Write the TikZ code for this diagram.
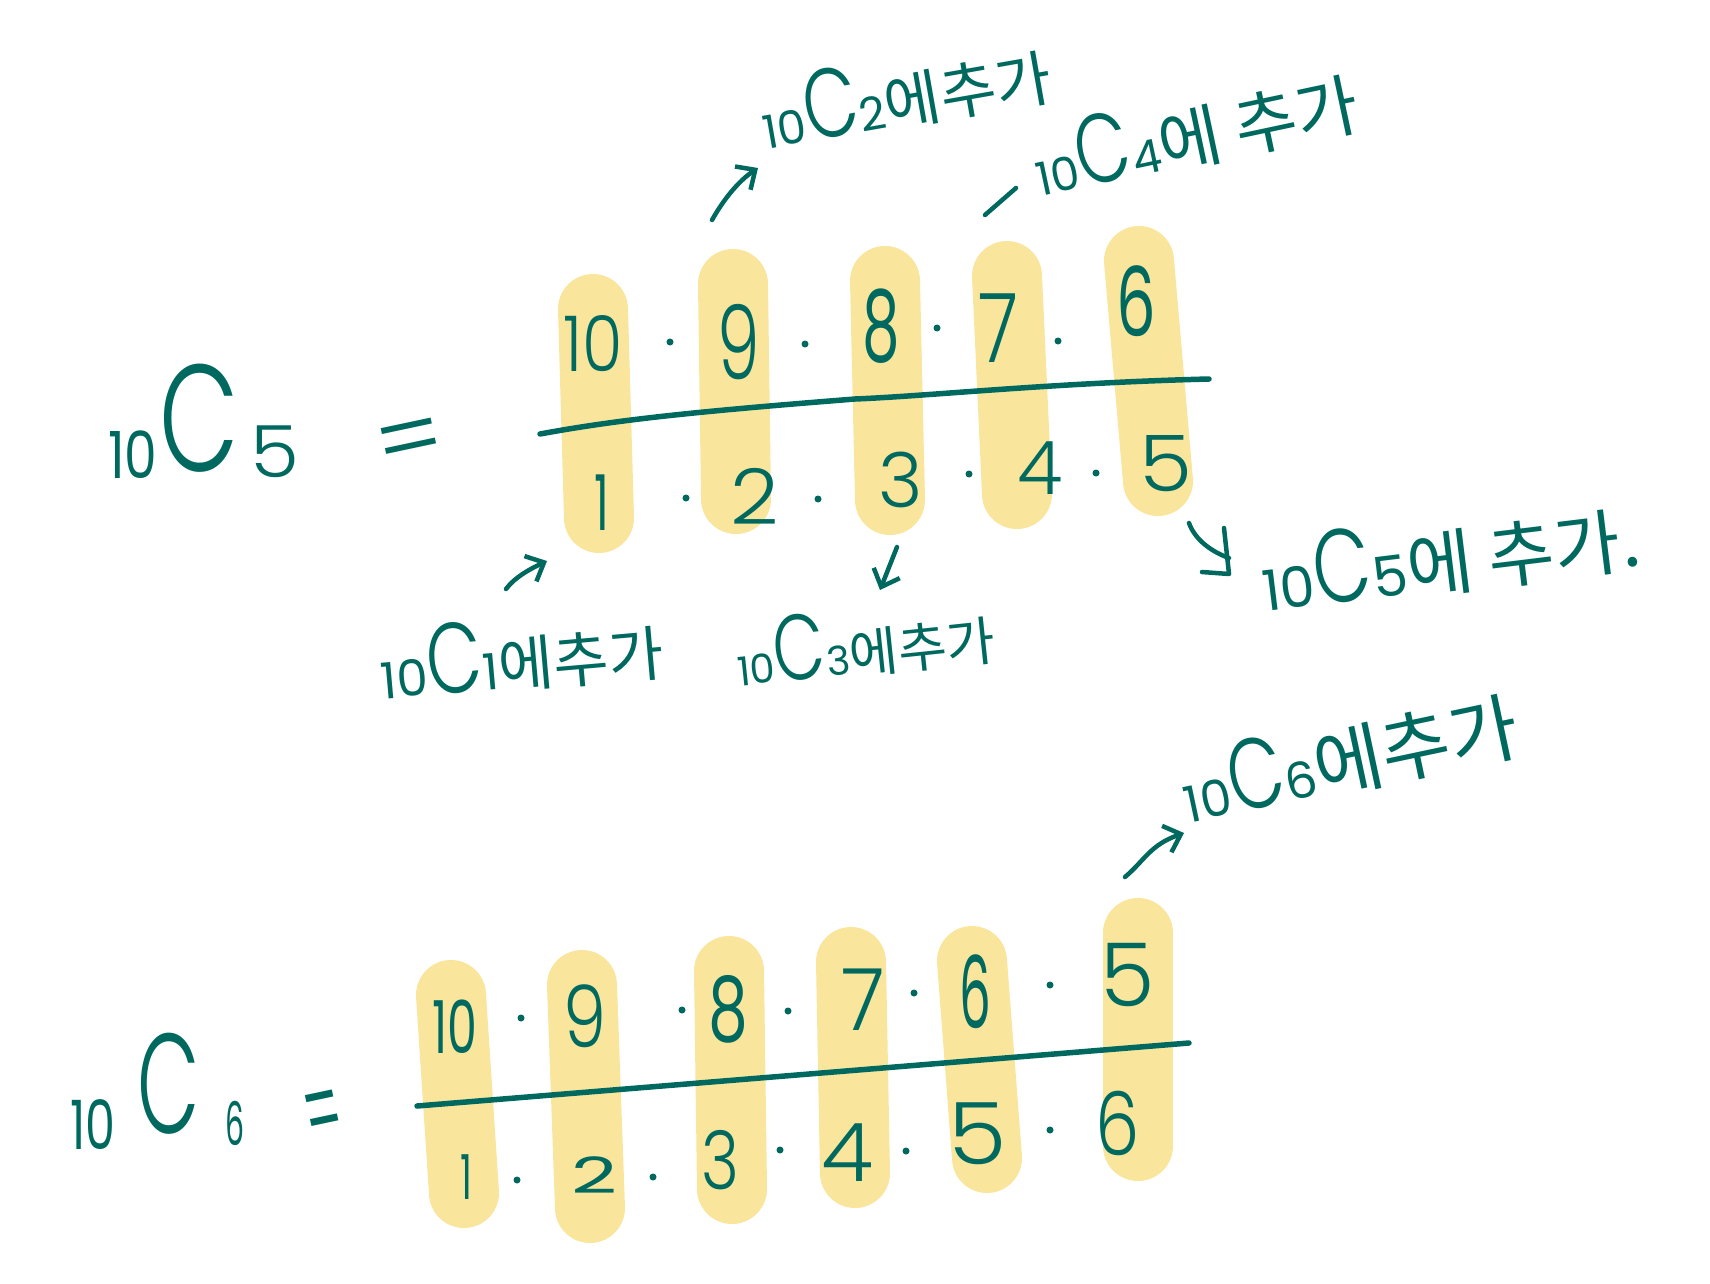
\documentclass[tikz,border=0pt]{standalone}
\usepackage{fontspec}
\usetikzlibrary{arrows.meta}
\setmainfont{Poppins}[UprightFont=* Light]
\newfontfamily\kr{Noto Sans CJK KR}
\newfontfamily\reg{Poppins}
\newcommand\fs[1]{\fontsize{#1}{#1}\selectfont}
\newcommand\sx[2]{\scalebox{#1}[1]{#2}}
\newcommand\lab[5]{{\fs{#1}\reg 10}\sx{.72}{\fs{#2}C}{\fs{#1}\reg #3}{\fs{#4}\kr #5}}
\definecolor{ink}{HTML}{00695F}
\definecolor{band}{HTML}{F9E59C}
\tikzset{
  bandline/.style={line width=70pt,line cap=round,draw=band},
  bar/.style={line width=5.5pt,line cap=round,draw=ink},
  dg/.style={inner sep=0pt,text=ink},
  tick/.style={fill=ink,draw=none,circle,inner sep=0pt,minimum size=7pt},
  hand/.style={line width=4.5pt,line cap=round,line join=round,draw=ink},
  arrowed/.style={hand,-{Straight Barb[length=15pt,width=28pt,line width=4.5pt]}}
}
\begin{document}
\begin{tikzpicture}[x=1pt,y=-1pt]
\useasboundingbox (0,0) rectangle (1710,1284);
% bands, upper fraction
\draw[bandline] (593,309) -- (599,518);
\draw[bandline] (733,284) -- (736,499);
\draw[bandline] (885,281) -- (890,500);
\draw[bandline] (1007,276) -- (1017,494);
\draw[bandline] (1139,261) -- (1158,481);
% bands, lower fraction
\draw[bandline] (451,995) -- (464,1193);
\draw[bandline] (582,985) -- (590,1208);
\draw[bandline] (729,971) -- (732,1189);
\draw[bandline] (851,962) -- (855,1173);
\draw[bandline] (972,961) -- (987,1158);
\draw[bandline] (1138,933) -- (1138,1146);
% fraction bars
\coordinate (b1a) at (540,434); \coordinate (b1b) at (1209,379);
\draw[bar] (b1a) .. controls (616,420) and (690,412) .. (855,399) .. controls (930,396) and (1050,383) .. (b1b);
\coordinate (b2a) at (417,1106); \coordinate (b2b) at (1189,1043);
\draw[bar] (b2a) -- (b2b);
% left side 10C5 =
\node[dg,font=\fs{65}\reg] (t10) at (133,455) {\sx{.8}{10}};
\node[dg,font=\fs{152}] (tC) at (199,418) {\sx{.68}{C}};
\node[dg,font=\fs{72}] (t5) at (275,452) {\sx{1.1}{5}};
\node[dg,font=\fs{100},rotate=12] (teq) at (411,448) {=};
% numerators top
\node[dg,font=\fs{77}] (a10) at (593,344) {\sx{.85}{10}};
\node[dg,font=\fs{103}] (a9) at (739,342) {\sx{.66}{9}};
\node[dg,font=\fs{99}\reg] (a8) at (881,326) {\sx{.6}{8}};
\node[dg,font=\fs{96}] (a7) at (998,328) {\sx{.78}{7}};
\node[dg,font=\fs{96}\reg] (a6) at (1136,301) {\sx{.65}{6}};
% denominators top
\node[dg,font=\fs{77}\reg] (c1) at (602,503) {\sx{.6}{1}};
\node[dg,font=\fs{77}] (c2) at (755,496) {\sx{1.1}{2}};
\node[dg,font=\fs{76}] (c3) at (901,480) {3};
\node[dg,font=\fs{74}] (c4) at (1040,468) {4};
\node[dg,font=\fs{78}] (c5) at (1166,464) {\sx{1.1}{5}};
\foreach \n/\p in {d1/{670,342},d2/{805,344},d3/{937,328},d4/{1058,341},d5/{686,498},d6/{818,499},d7/{969,474},d8/{1096,473}}
  \node[tick] (\n) at (\p) {};
% left side 10C6 =
\node[dg,font=\fs{68}\reg] (u10) at (93,1125) {\sx{.7}{10}};
\node[dg,font=\fs{142}] (uC) at (169,1084) {\sx{.57}{C}};
\node[dg,font=\fs{60}\reg] (u6) at (235,1123) {\sx{.5}{6}};
\node[dg,font=\fs{120},rotate=12] (ueq) at (325,1122) {\sx{.45}{=}};
% numerators bottom
\node[dg,font=\fs{73}\reg] (e10) at (455,1027) {\sx{.65}{10}};
\node[dg,font=\fs{86}] (e9) at (585,1016) {\sx{.8}{9}};
\node[dg,font=\fs{90}\reg] (e8) at (728,1009) {\sx{.7}{8}};
\node[dg,font=\fs{86}] (e7) at (863,1000) {\sx{.95}{7}};
\node[dg,font=\fs{100}\reg] (e6) at (975,992) {\sx{.5}{6}};
\node[dg,font=\fs{88}] (e5) at (1128,975) {5};
% denominators bottom
\node[dg,font=\fs{62}\reg] (f1) at (466,1177) {\sx{.6}{1}};
\node[dg,font=\fs{50}\reg] (f2) at (594,1175) {\sx{1.6}{2}};
\node[dg,font=\fs{81}] (f3) at (720,1160) {\sx{.8}{3}};
\node[dg,font=\fs{81}] (f4) at (848,1153) {\sx{1.05}{4}};
\node[dg,font=\fs{86}] (f5) at (978,1134) {\sx{1.1}{5}};
\node[dg,font=\fs{88}] (f6) at (1118,1123) {\sx{.8}{6}};
\foreach \n/\p in {g1/{521,1018},g2/{682,1010},g3/{788,1011},g4/{914,993},g5/{1050,985},g6/{517,1180},g7/{653,1177},g8/{780,1150},g9/{906,1151},g10/{1050,1130}}
  \node[tick] (\n) at (\p) {};
% labels
\node[dg,rotate=10] (l2) at (905,92) {\lab{46}{98}{2}{61}{에추가}};
\node[dg,rotate=12] (l4) at (1195,131) {\lab{46}{98}{4}{68}{에 추가}};
\node[dg,rotate=5] (l1) at (521,654) {\lab{50}{100}{1}{60}{에추가}};
\node[dg,rotate=6] (l3) at (865,642) {\lab{40}{93}{3}{53}{에추가}};
\node[dg,rotate=7] (l5) at (1450,555) {\lab{56}{104}{5}{72}{에 추가.}};
\node[dg,rotate=12] (l6) at (1349,756) {\lab{50}{100}{6}{75}{에추가}};
% connectors
\coordinate (p1a) at (712,220); \coordinate (p1b) at (758,168);
\draw[arrowed] (p1a) .. controls (725,197) and (740,180) .. (p1b);
\coordinate (p2a) at (506,589); \coordinate (p2b) at (547,561);
\draw[arrowed] (p2a) .. controls (515,577) and (530,569) .. (p2b);
\coordinate (p3a) at (897,547); \coordinate (p3b) at (880,590);
\draw[arrowed] (p3a) -- (p3b);
\coordinate (p4a) at (1016,188); \coordinate (p4b) at (985,215);
\draw[hand] (p4a) -- (p4b);
\coordinate (p5a) at (1189,523); \coordinate (p5b) at (1229,558);
\coordinate (p5c) at (1224,528); \coordinate (p5d) at (1229,574); \coordinate (p5e) at (1202,572);
\draw[hand] (p5a) .. controls (1195,540) and (1212,552) .. (p5b);
\draw[hand] (p5c) -- (p5d) -- (p5e);
\coordinate (p6a) at (1125,877); \coordinate (p6b) at (1184,833);
\draw[arrowed] (p6a) .. controls (1145,860) and (1150,845) .. (p6b);
\end{tikzpicture}
\end{document}
